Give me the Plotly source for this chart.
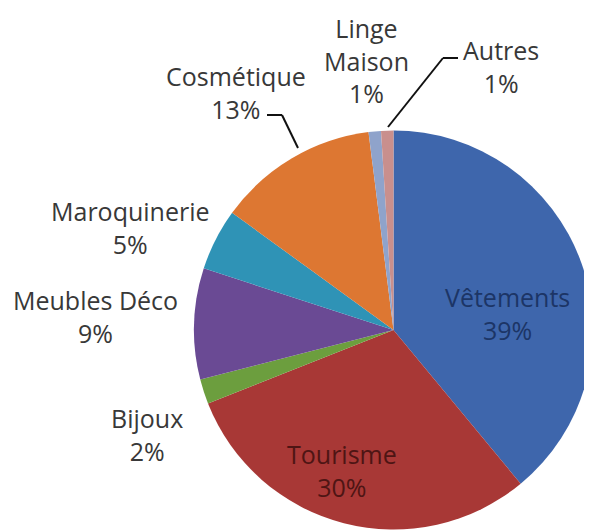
import plotly.graph_objects as go

categories = ["Vêtements", "Tourisme", "Bijoux", "Meubles Déco", "Maroquinerie",
              "Cosmétique", "Linge Maison", "Autres"]
shares = [39, 30, 2, 9, 5, 13, 1, 1]
colors = ["#3E66AC", "#A83836", "#6C9E3E", "#6A4A94", "#2F93B6",
          "#DD7732", "#8FA3CB", "#C98F8D"]
label_lines = ["Vêtements", "Tourisme", "Bijoux", "Meubles Déco", "Maroquinerie",
               "Cosmétique", "Linge<br>Maison", "Autres"]

W, H = 592, 532
OFF = 8  # page body margin


def px(x, y):
    return (x - OFF) / W, 1 - (y - OFF) / H


fig = go.Figure(go.Pie(
    labels=categories,
    values=shares,
    marker=dict(colors=colors, line=dict(width=0)),
    sort=False,
    direction="clockwise",
    rotation=0,
    textinfo="none",
    hoverinfo="label+percent",
    showlegend=False,
    domain=dict(x=[186 / W, 585 / W], y=[10 / H, 410 / H]),
))

# label anchor positions (pixel centres)
label_pos = {
    "Vêtements": (507, 313),
    "Tourisme": (342, 470),
    "Bijoux": (147, 434),
    "Meubles Déco": (95, 316),
    "Maroquinerie": (130, 228),
    "Cosmétique": (236, 92),
    "Linge Maison": (366, 60),
    "Autres": (501, 66),
}
text_colors = {"Vêtements": "#1C3566", "Tourisme": "#4E1514"}

annotations = []
for cat, lab, v in zip(categories, label_lines, shares):
    x, y = px(*label_pos[cat])
    annotations.append(dict(
        x=x, y=y, xref="paper", yref="paper",
        text=f"{lab}<br>{v}%", showarrow=False,
        font=dict(family="Open Sans", size=25, color=text_colors.get(cat, "#383838")),
        xanchor="center", yanchor="middle", align="center",
    ))

lines = [
    [(267, 115), (282, 115), (298, 148)],
    [(458, 58), (443, 58), (388, 127)],
]
shapes = []
for pts in lines:
    for (x0, y0), (x1, y1) in zip(pts[:-1], pts[1:]):
        a, b = px(x0, y0)
        c, d = px(x1, y1)
        shapes.append(dict(type="line", xref="paper", yref="paper",
                           x0=a, y0=b, x1=c, y1=d,
                           line=dict(color="#111111", width=2)))

fig.update_layout(
    width=W, height=H,
    margin=dict(l=0, r=0, t=0, b=0),
    paper_bgcolor="white",
    plot_bgcolor="white",
    annotations=annotations,
    shapes=shapes,
)

fig.write_html("out.html")
